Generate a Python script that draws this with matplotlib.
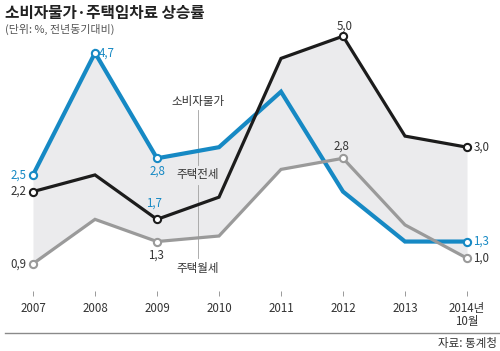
import numpy as np
import matplotlib.pyplot as plt

plt.rcParams['font.family'] = ['Noto Sans CJK KR', 'DejaVu Sans']

# data (% change, year on year)
years = ['2007', '2008', '2009', '2010', '2011', '2012', '2013', '2014년\n10월']
cpi = [2.5, 4.7, 2.8, 3.0, 4.0, 2.2, 1.3, 1.3]        # 소비자물가
jeonse = [2.2, 2.5, 1.7, 2.1, 4.6, 5.0, 3.2, 3.0]     # 주택전세
wolse = [0.9, 1.7, 1.3, 1.4, 2.6, 2.8, 1.6, 1.0]      # 주택월세

BLUE = '#1689c4'
BLACK = '#1c1c1c'
GRAY = '#9a9a9a'

x = np.arange(len(years))
series = {'cpi': cpi, 'jeonse': jeonse, 'wolse': wolse}

fig = plt.figure(figsize=(5, 3.51), dpi=100)
# axes bottom sits on the tick marks, x limits put 2007 at px 33 and steps of 62 px
ax = fig.add_axes([0, 55 / 351, 1, 296 / 351])
ax.set_xlim(-33 / 62, 467 / 62)
ax.set_ylim(0.319, 5.652)

# shaded band between the highest and lowest line (follows the crossings)
xf = np.linspace(0, len(years) - 1, 701)
dense = np.array([np.interp(xf, x, s) for s in (cpi, jeonse, wolse)])
ax.fill_between(xf, dense.min(axis=0), dense.max(axis=0), color='#ebebed', lw=0, zorder=1)

ax.plot(x, cpi, color=BLUE, lw=3.0, zorder=3, solid_joinstyle='miter')
ax.plot(x, wolse, color=GRAY, lw=2.3, zorder=4, solid_joinstyle='miter')
ax.plot(x, jeonse, color=BLACK, lw=2.3, zorder=5, solid_joinstyle='miter')

# open circle markers on labelled points
marked = {'cpi': [0, 1, 2, 7], 'jeonse': [0, 2, 5, 7], 'wolse': [0, 2, 5, 7]}
colors = {'cpi': BLUE, 'jeonse': BLACK, 'wolse': GRAY}
zs = {'cpi': 6, 'jeonse': 7, 'wolse': 6}
for k, idx in marked.items():
    vals = np.array(series[k])
    ax.plot(x[idx], vals[idx], 'o', ms=5.2, mfc='white', mec=colors[k], mew=1.5, zorder=zs[k])

# value labels: (series, index, dx pt, dy pt, ha, text colour)
labels = [
    ('cpi', 0, -4.5, 0, 'right', BLUE),
    ('cpi', 1, 3, 0, 'left', BLUE),
    ('cpi', 2, 0, -9, 'center', BLUE),
    ('jeonse', 2, -2, 11.5, 'center', BLUE),
    ('jeonse', 0, -4.5, 0, 'right', '#333333'),
    ('wolse', 0, -4.5, 0, 'right', '#333333'),
    ('wolse', 2, -1, -10, 'center', '#333333'),
    ('jeonse', 5, 1, 7.5, 'center', '#333333'),
    ('wolse', 5, -1, 9, 'center', '#333333'),
    ('jeonse', 7, 4.5, 0, 'left', '#333333'),
    ('cpi', 7, 4.5, 0, 'left', BLUE),
    ('wolse', 7, 4.5, 0, 'left', '#333333'),
]
for k, i, dx, dy, ha, c in labels:
    v = series[k][i]
    ax.annotate(f'{v:.1f}'.replace('.', ','), (x[i], v), xytext=(dx, dy),
                textcoords='offset points', ha=ha, va='center', fontsize=8.3,
                color=c, zorder=8)

# series names with thin leader line
lx = 2.66
ax.plot([lx, lx], [2.68, 3.67], color='#a0a0a0', lw=0.6, zorder=2)
ax.plot([lx, lx], [1.0, 2.32], color='#a0a0a0', lw=0.6, zorder=2)
ax.text(lx, 3.83, '소비자물가', ha='center', va='center', fontsize=8.3, color='#333333')
ax.text(lx, 2.5, '주택전세', ha='center', va='center', fontsize=8.3, color='#333333')
ax.text(lx, 0.82, '주택월세', ha='center', va='center', fontsize=8.3, color='#333333')

ax.set_xticks(x)
ax.set_xticklabels(years, fontsize=8.3, color='#333333', linespacing=1.0)
ax.tick_params(axis='x', direction='in', length=3.5, width=0.7, color='#999999', pad=4.5)
ax.set_yticks([])
for s in ax.spines.values():
    s.set_visible(False)
ax.patch.set_alpha(0)

fig.text(0.01, 1 - 13 / 351, '소비자물가·주택임차료 상승률', fontsize=11.3, fontweight='bold',
         color='#222222', va='center', ha='left')
fig.text(0.01, 1 - 29 / 351, '(단위: %, 전년동기대비)', fontsize=7.9, color='#555555',
         va='center', ha='left')
fig.add_artist(plt.Line2D([0.01, 1.0], [18 / 351, 18 / 351], color='#8a8a8a', lw=1))
fig.text(0.994, 8 / 351, '자료: 통계청', fontsize=8.3, color='#333333', ha='right', va='center')

fig.savefig('out.png', dpi=100)
